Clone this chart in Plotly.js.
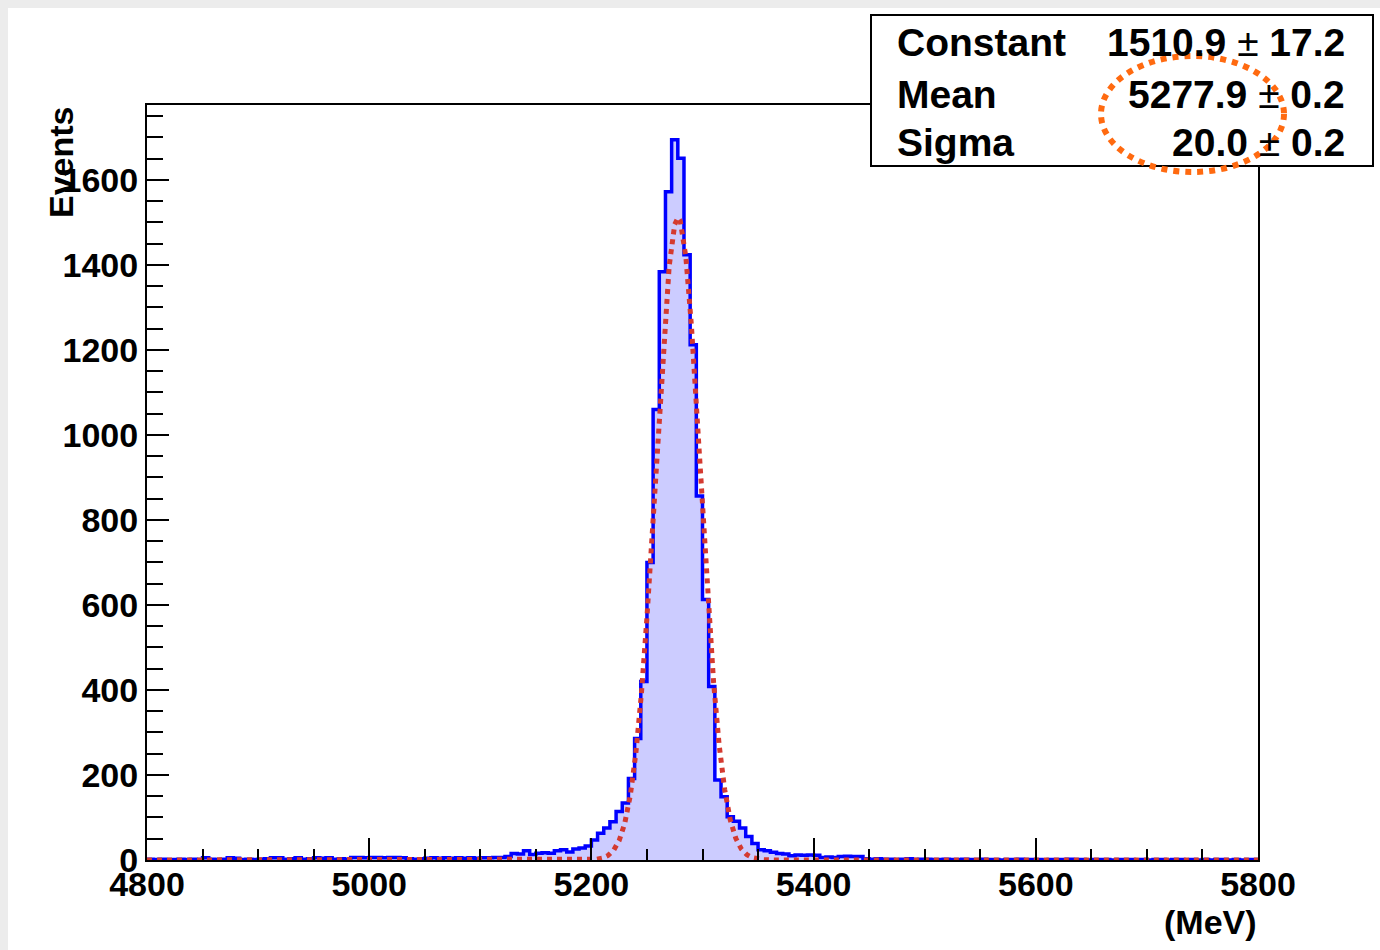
<!DOCTYPE html>
<html><head><meta charset="utf-8">
<script src="https://cdn.plot.ly/plotly-3.0.1.min.js"></script>
<style>
html,body{margin:0;padding:0;background:#ececec;width:1380px;height:950px;overflow:hidden;}
#chart{position:absolute;left:8px;top:8px;width:1372px;height:942px;background:#fff;}
</style></head><body><div id="chart"></div>
<script>
// ---- data ----
const binLow = 4800, binHigh = 5800;          // histogram range (MeV), 180 bins
const counts = [
  2,1,2,1,1,2,1,2,1,5,
  2,1,2,5,4,1,2,1,2,3,
  5,5,2,3,5,2,3,5,4,5,
  2,3,2,6,6,5,6,6,5,6,
  6,5,3,2,3,4,5,4,5,4,
  5,4,5,4,5,5,6,6,
  8,15,14,22,13,16,17,16,22,24,
  19,26,28,33,47,63,75,90,114,134,
  192,286,420,700,1060,1384,1572,1694,1651,1424,
  1212,856,613,408,188,149,102,91,75,55,
  39,24,22,18,15,14,10,12,11,12,
  11,6,7,6,8,9,8,8,
  3,2,3,2,2,1,2,3,1,2,2,1,1,2,1,1,
  2,1,1,2,1,1,0,1,1,2,1,1,1,0,1,1,
  1,2,1,1,0,1,1,1,0,1,1,1,0,1,0,1,
  1,0,1,1,0,1,0,1,0,1,1,0,1,0,1,1
];
const fitX = [4800,5190,5195,5200,5205,5210,5215,5220,5225,5230,5235,5240,5245,5250,5255,5260,5265,5270,5275,5278,5280,5285,5290,5295,5300,5305,5310,5315,5320,5325,5330,5335,5340,5345,5350,5355,5360,5365,5800];
const fitY = [0,0.1,0.3,0.8,2.0,4.7,10.7,22.9,45.7,85.9,151.5,251,390.6,571,784,1012,1227,1397,1495,1511,1503,1419,1258,1048,820,603,417,270,165,94.4,50.8,25.7,12.2,5.4,2.3,0.9,0.3,0.1,0];
const xTitle = "(MeV)";
const yTitle = "Events";
const statNames = ["Constant", "Mean", "Sigma"];
const statValues = ["1510.9", "5277.9", "20.0"];
const statErrors = ["17.2", "0.2", "0.2"];

// ---- build histogram steps ----
const nb = counts.length;
const w = (binHigh - binLow) / nb;
const hx = [], hy = [];
for (let i = 0; i < nb; i++) { hx.push(binLow + i * w); hy.push(counts[i]); }
hx.push(binHigh); hy.push(counts[nb - 1]);

// ---- layout helpers (page pixel -> paper) ----
const OFF = 8, L = 139, R = 122, T = 97, B = 90, W = 1372, H = 942;
const PW = W - L - R, PH = H - T - B;
const px = gx => (gx - OFF - L) / PW;
const py = gy => (H - B - (gy - OFF)) / PH;

const FONT = '"Liberation Sans", Arial, Helvetica, sans-serif';

const traces = [
  { type: 'scatter', mode: 'lines', x: hx, y: hy,
    line: { shape: 'hv', color: '#0000ff', width: 3.5 },
    fill: 'tozeroy', fillcolor: '#ccccff', hoverinfo: 'skip', showlegend: false },
  { type: 'scatter', mode: 'lines', x: fitX, y: fitY,
    line: { color: '#d43a30', width: 5, dash: '5px,5px' }, hoverinfo: 'skip', showlegend: false }
];

const tickFont = { family: FONT, size: 34, color: '#000', weight: 'bold' };
const annotations = [
  { text: yTitle, xref: 'paper', yref: 'paper', x: px(61), y: py(104), xanchor: 'center', yanchor: 'top',
    textangle: -90, showarrow: false, font: { family: FONT, size: 34, color: '#000', weight: 'bold' } },
  { text: xTitle, xref: 'paper', yref: 'paper', x: px(1259), y: py(922), xanchor: 'right', yanchor: 'middle',
    showarrow: false, font: { family: FONT, size: 34, color: '#000', weight: 'bold' } }
];
const rowY = [43, 94.5, 142];
for (let i = 0; i < statNames.length; i++) {
  annotations.push({ text: statNames[i], xref: 'paper', yref: 'paper', x: px(895), y: py(rowY[i]),
    xanchor: 'left', yanchor: 'middle', showarrow: false,
    font: { family: FONT, size: 39, color: '#000', weight: 'bold' } });
  annotations.push({ text: statValues[i] + ' <span style="font-weight:normal">±</span> ' + statErrors[i],
    xref: 'paper', yref: 'paper', x: px(1347), y: py(rowY[i]),
    xanchor: 'right', yanchor: 'middle', showarrow: false,
    font: { family: FONT, size: 39, color: '#000', weight: 'bold' } });
}

const layout = {
  width: W, height: H,
  margin: { l: L, r: R, t: T, b: B, pad: 0 },
  paper_bgcolor: '#fff', plot_bgcolor: '#fff',
  showlegend: false,
  xaxis: { range: [binLow, binHigh], tick0: 4800, dtick: 200, ticks: 'inside', ticklen: 22, tickwidth: 2,
    tickcolor: '#000', showline: true, linecolor: '#000', linewidth: 2, mirror: true,
    showgrid: false, zeroline: false, tickfont: tickFont, ticklabelstandoff: -7,
    minor: { dtick: 50, ticks: 'inside', ticklen: 11, tickwidth: 2, tickcolor: '#000', showgrid: false } },
  yaxis: { range: [0, 1776], tick0: 0, dtick: 200, ticks: 'inside', ticklen: 22, tickwidth: 2,
    tickcolor: '#000', showline: true, linecolor: '#000', linewidth: 2, mirror: true,
    showgrid: false, zeroline: false, tickfont: tickFont, ticklabelstandoff: 0,
    minor: { dtick: 50, ticks: 'inside', ticklen: 16, tickwidth: 2, tickcolor: '#000', showgrid: false } },
  shapes: [
    { type: 'rect', xref: 'paper', yref: 'paper', x0: px(871), x1: px(1373), y0: py(166), y1: py(15),
      line: { color: '#000', width: 2 }, fillcolor: '#fff', layer: 'above' },
    { type: 'circle', xref: 'paper', yref: 'paper', x0: px(1101), x1: px(1284), y0: py(172), y1: py(56),
      line: { color: '#ff6a10', width: 6, dash: '6px,6px' }, layer: 'above' }
  ],
  annotations: annotations
};

Plotly.newPlot('chart', traces, layout, { displayModeBar: false, staticPlot: true });
</script></body></html>
